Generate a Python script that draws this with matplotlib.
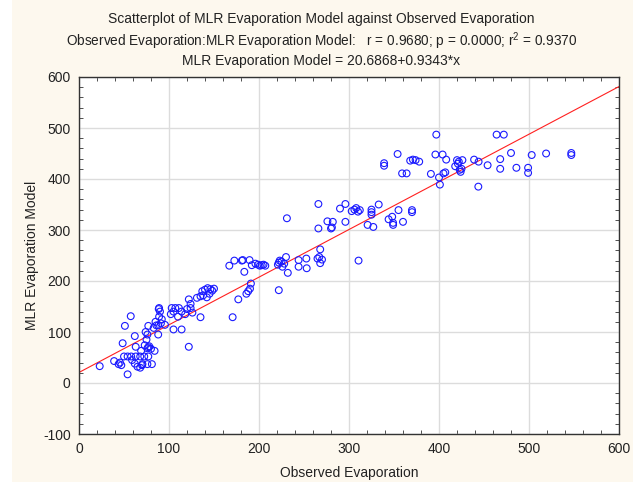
import matplotlib
matplotlib.use("Agg")
from matplotlib import pyplot as plt
from matplotlib.patches import Rectangle
from matplotlib.ticker import MultipleLocator
import numpy as np

plt.rcParams['font.family'] = ['Liberation Sans', 'DejaVu Sans']
plt.rcParams['mathtext.default'] = 'regular'
plt.rcParams['axes.unicode_minus'] = False

# observed evaporation (x) and MLR model (y)
obs = [23, 39, 44, 45.5, 47, 54, 48.5, 51, 57.5, 50, 54, 58, 63, 68, 72.5, 77,
       59, 62, 65, 68, 70, 70.5, 76, 81, 62, 63, 69, 73, 76, 78, 80, 77, 84,
       76, 77, 74, 75, 86, 88, 88, 88.6, 89, 91, 95.5, 89, 83, 85, 92, 90,
       103, 107, 111, 124, 102, 105, 110, 114, 118, 120, 126, 105, 114, 122,
       124, 122, 135, 131, 135, 138, 142, 137, 140, 143, 146, 148, 150, 145,
       167, 172.6, 181, 182, 189.5, 192, 196, 199, 201, 203, 205, 207, 183.7,
       170.7, 177, 186, 188, 190, 191, 222, 222,
       221, 223, 225, 228, 230, 232, 226, 231, 244, 244, 252.6, 253, 265, 267,
       268, 268, 270, 266, 266, 276, 280, 282, 281,
       290, 296, 296, 303, 306, 308, 310, 312, 310.6, 320.7, 327, 325, 325,
       325, 333, 339, 339, 344, 348, 349, 349, 355, 360, 370, 370,
       354, 359, 364, 368, 371, 374, 378, 391, 396, 397, 404, 408, 400, 401,
       405, 407, 418, 420, 422, 423, 424, 425, 426, 421, 439, 444, 443.7,
       454, 464, 472, 468, 468, 480, 486, 499, 499, 503, 519, 547, 547]
mlr = [33, 43, 37, 40, 35, 17, 78, 112, 131, 52, 52, 52, 52, 52, 52, 52,
       45, 38, 32, 30, 35, 37, 37, 37, 92, 71, 63, 74, 68, 72, 67, 70, 63,
       95, 112, 100, 85, 113, 113, 95, 145, 130, 117, 114, 147, 108, 120, 125, 140,
       147, 147, 147, 147, 135, 140, 130, 140, 135, 145, 138, 105, 105, 164,
       155, 71, 129, 167, 170, 172, 168, 180, 183, 186, 184, 181, 185, 175,
       230, 240, 240, 241, 241, 231, 234, 232, 230, 231, 232, 230, 218,
       129, 164, 175, 180, 185, 195, 236, 182,
       232, 240, 238, 234, 247, 216, 228, 323, 241, 228, 244, 225, 244, 247,
       235, 262, 242, 351, 303, 317, 303, 316, 305,
       342, 351, 316, 337, 340, 343, 336, 339, 240, 310, 306, 330, 335,
       340, 350, 431, 426, 321, 326, 314, 310, 339, 316, 339, 335,
       449, 411, 411, 436, 438, 437, 434, 410, 448, 487, 448, 438, 403, 389,
       411, 413, 425, 437, 434, 418, 414, 420, 437, 430, 438, 434, 385,
       427, 487, 487, 439, 420, 451, 422, 422, 412, 447, 450, 451, 447]

intercept = 20.6868
slope = 0.9343
line_x = np.array([0, 600])

fig = plt.figure(figsize=(6.43, 4.82), dpi=100, facecolor='white')
fig.patches.append(Rectangle((12 / 643, 0), 621 / 643, 1, transform=fig.transFigure,
                             facecolor='#fdf8ee', edgecolor='none', zorder=-10))
ax = fig.add_axes([79 / 643, 48 / 482, 540 / 643, 357 / 482])
ax.set_facecolor('white')

ax.plot(line_x, intercept + slope * line_x, color='#ff2020', lw=0.8, zorder=2)
ax.scatter(obs, mlr, s=24, facecolors='none', edgecolors='#1a1aff', linewidths=0.8, zorder=3)

ax.set_xlim(0, 600)
ax.set_ylim(-100, 600)
ax.xaxis.set_major_locator(MultipleLocator(100))
ax.yaxis.set_major_locator(MultipleLocator(100))
ax.xaxis.set_minor_locator(MultipleLocator(20))
ax.yaxis.set_minor_locator(MultipleLocator(20))
ax.grid(True, which='major', color='#dcdcdc', lw=1, zorder=0)
ax.set_axisbelow(True)
ax.tick_params(which='both', direction='in', top=True, right=True, labelsize=10,
               color='#333333', labelcolor='#222222', pad=6)
ax.tick_params(which='major', length=0)
ax.tick_params(which='minor', length=3)
for s in ax.spines.values():
    s.set_color('#333333')
    s.set_linewidth(1)

ax.set_xlabel('Observed Evaporation', fontsize=10, labelpad=7, color='#222222')
ax.set_ylabel('MLR Evaporation Model', fontsize=10, labelpad=3, color='#222222')

fig.text(0.5, 1 - 19 / 482, 'Scatterplot of MLR Evaporation Model against Observed Evaporation',
         ha='center', va='center', fontsize=10, color='#222222')
fig.text(0.5, 1 - 41 / 482,
         'Observed Evaporation:MLR Evaporation Model:   r = 0.9680; p = 0.0000; r$^2$ = 0.9370',
         ha='center', va='center', fontsize=9.8, color='#222222')
fig.text(0.5, 1 - 61 / 482, 'MLR Evaporation Model = 20.6868+0.9343*x',
         ha='center', va='center', fontsize=10, color='#222222')

fig.savefig('out.png', dpi=100, facecolor=fig.get_facecolor())
